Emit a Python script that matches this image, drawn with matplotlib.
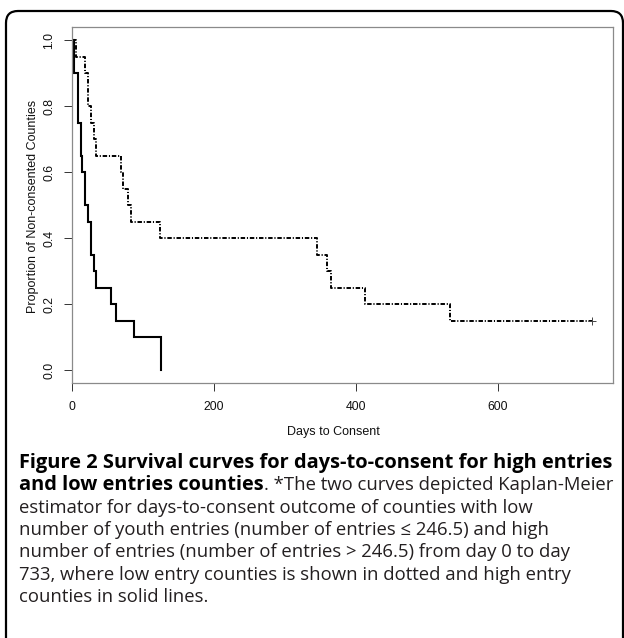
import matplotlib
matplotlib.use("Agg")
import matplotlib.pyplot as plt
from matplotlib.patches import FancyBboxPatch
from matplotlib.transforms import IdentityTransform

# ---------------- data ----------------
high_days = [0, 4, 9, 13, 15, 19, 23, 27, 31, 35, 55, 63, 88, 126]
high_surv = [1.0, 0.9, 0.75, 0.65, 0.6, 0.5, 0.45, 0.35, 0.3, 0.25, 0.2, 0.15, 0.1, 0.0]

low_days = [0, 7, 19, 23, 27, 31, 35, 69, 73, 80, 84, 125, 345, 359, 366, 413, 533, 733]
low_surv = [1.0, 0.95, 0.9, 0.8, 0.75, 0.7, 0.65, 0.6, 0.55, 0.5, 0.45, 0.4, 0.35, 0.3, 0.25, 0.2, 0.15, 0.15]

censor_day = [733]
censor_surv = [0.15]

x_ticks = [0, 200, 400, 600]
y_ticks = [0.0, 0.2, 0.4, 0.6, 0.8, 1.0]
y_tick_labels = ["0.0", "0.2", "0.4", "0.6", "0.8", "1.0"]

x_label = "Days to Consent"
y_label = "Proportion of Non-consented Counties"

caption_bold_1 = "Figure 2 Survival curves for days-to-consent for high entries"
caption_bold_2 = "and low entries counties"
caption_rest_2 = ". *The two curves depicted Kaplan-Meier"
caption_lines = [
    "estimator for days-to-consent outcome of counties with low",
    "number of youth entries (number of entries \u2264 246.5) and high",
    "number of entries (number of entries > 246.5) from day 0 to day",
    "733, where low entry counties is shown in dotted and high entry",
    "counties in solid lines.",
]

# ---------------- figure ----------------
W, H = 624, 638
plt.rcParams["lines.scale_dashes"] = False
fig = plt.figure(figsize=(W / 100, H / 100), dpi=100)
fig.patch.set_facecolor("white")

# rounded outer frame (pixel coordinates)
frame = FancyBboxPatch((6, -30), 617, H - 11 + 30,
                       boxstyle="round,pad=0,rounding_size=12",
                       transform=IdentityTransform(), fill=False,
                       edgecolor="black", linewidth=1.6)
fig.add_artist(frame)

ax_l, ax_r, ax_t, ax_b = 71.5, 613.0, 27.3, 383.3
ax = fig.add_axes([ax_l / W, 1 - ax_b / H, (ax_r - ax_l) / W, (ax_b - ax_t) / H])

ax.step(high_days, high_surv, where="post", color="black", linewidth=1.5,
        solid_joinstyle="miter")
ax.step(low_days, low_surv, where="post", color="black", linewidth=1.4,
        dashes=(3.2, 1.3, 0.8, 1.3))
ax.plot(censor_day, censor_surv, linestyle="none", marker="+", markersize=6,
        markeredgewidth=0.7, color="#444444")

ax.set_xlim(0, 733 * 1.04)
ax.set_ylim(-0.04, 1.04)

ax.set_xticks(x_ticks)
ax.set_xticklabels([str(t) for t in x_ticks])
ax.set_yticks(y_ticks)
ax.set_yticklabels(y_tick_labels, rotation=90, va="center")

tick_family = ["Liberation Sans", "DejaVu Sans"]
for lab in ax.get_xticklabels() + ax.get_yticklabels():
    lab.set_fontfamily(tick_family)
    lab.set_fontsize(8.8)
    lab.set_color("#111111")

ax.tick_params(axis="both", direction="out", length=5.5, width=0.7,
               color="#333333")
ax.tick_params(axis="x", pad=7.0)
ax.tick_params(axis="y", pad=6.0)
for sp in ax.spines.values():
    sp.set_color("#8a8a8a")
    sp.set_linewidth(0.9)

fig.text(333 / W, 1 - 431.7 / H, x_label, ha="center", va="center",
         family=tick_family, size=9, color="#111111")
fig.text(33 / W, 1 - 206 / H, y_label, ha="center", va="center", rotation=90,
         family=tick_family, size=9, color="#111111")

# ---------------- caption ----------------
cap_family = ["Open Sans", "DejaVu Sans"]
cap_color = "#231f20"
x0 = 19
first_y = 463
step_y = 22.3
bold_target_w = 595
reg_target_w = 526
line2_right = 614

renderer = fig.canvas.get_renderer()

def width(txt, size, weight="normal"):
    p = fig.text(0, 0.5, txt, family=cap_family, size=size, weight=weight)
    w = p.get_window_extent(renderer).width
    p.remove()
    return w

fs_b = 11.5 * bold_target_w / width(caption_bold_1, 11.5, "bold")
fs_r = 11.5 * reg_target_w / width(caption_lines[0], 11.5)
bold2_w = width(caption_bold_2, fs_b, "bold")
fs_cap = 11.5 * (line2_right - x0 - bold2_w) / width(caption_rest_2, 11.5)
fs_r = min(fs_r, fs_cap)

def ypos(i):
    return 1 - (first_y + i * step_y) / H

fig.text(x0 / W, ypos(0), caption_bold_1, family=cap_family, weight="bold",
         size=fs_b, color="black", va="center")
t2 = fig.text(x0 / W, ypos(1), caption_bold_2, family=cap_family,
              weight="bold", size=fs_b, color="black", va="center")
bb = t2.get_window_extent(renderer)
fig.text(bb.x1 / W, ypos(1), caption_rest_2, family=cap_family,
         size=fs_r, color=cap_color, va="center")
for i, line in enumerate(caption_lines):
    fig.text(x0 / W, ypos(i + 2), line, family=cap_family, size=fs_r,
             color=cap_color, va="center")

fig.savefig("out.png", dpi=100)
